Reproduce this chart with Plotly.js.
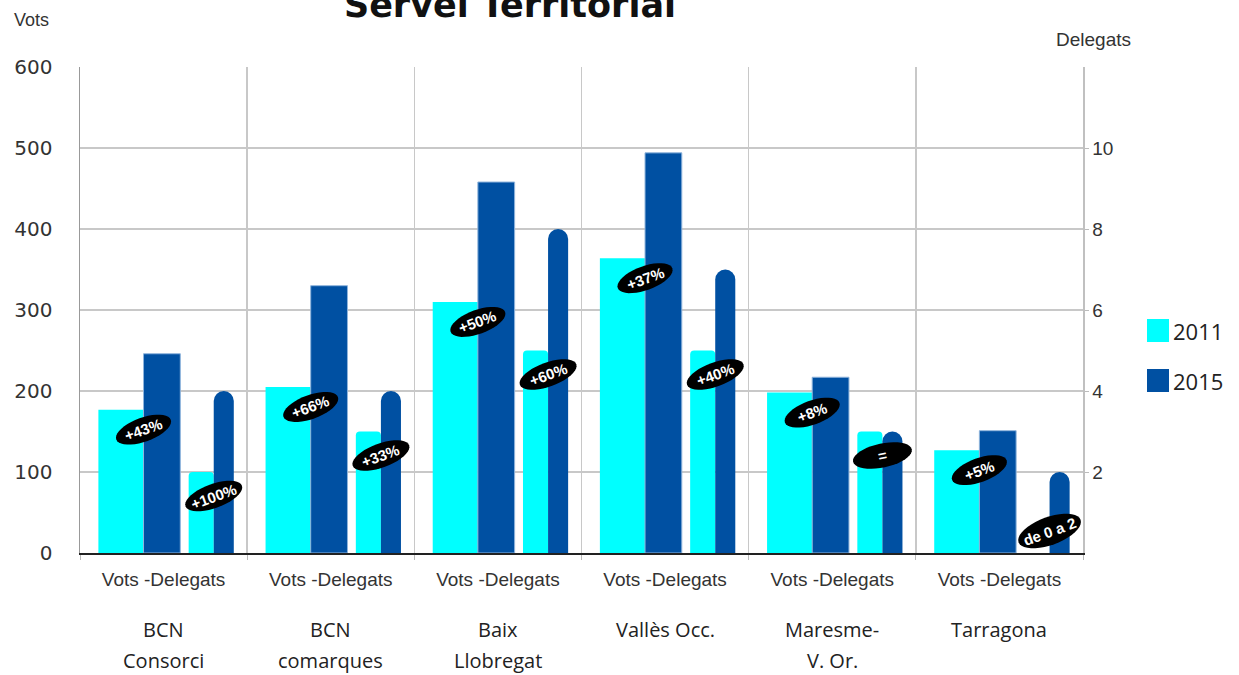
<!DOCTYPE html>
<html><head><meta charset="utf-8">
<script src="https://cdn.plot.ly/plotly-3.0.1.min.js"></script>
<style>html,body{margin:0;padding:0;background:#fff}#chart{width:1239px;height:675px}</style>
</head><body><div id="chart"></div>
<script>
const categories = ['BCN\nConsorci', 'BCN\ncomarques', 'Baix\nLlobregat', 'Vallès Occ.', 'Maresme-\nV. Or.', 'Tarragona'];
const groupTick = 'Vots -Delegats';
const years = ['2011', '2015'];
const vots2011 = [177, 205, 310, 364, 198, 127];
const vots2015 = [246, 330, 458, 494, 217, 151];
const deleg2011 = [2, 3, 5, 5, 3, 0];
const deleg2015 = [4, 4, 8, 7, 3, 2];
const votsChange = ['+43%', '+66%', '+50%', '+37%', '+8%', '+5%'];
const delegChange = ['+100%', '+33%', '+60%', '+40%', '=', 'de 0 a 2'];
const votsTicks = [0, 100, 200, 300, 400, 500, 600];
const delegTicks = [2, 4, 6, 8, 10];

const CYAN = '#00ffff', BLUE = '#0050a2';
const NARROW = '"Liberation Sans Narrow", "Arial Narrow", "Liberation Sans", Arial, sans-serif';
const idx = categories.map((_, i) => i);

// geometry helpers
const plotH = 675 - 67 - 122;
const pxPerVote = plotH / 600;
const votsPerDeleg = 600 / 12;

const traces = [
  {type: 'bar', x: idx, y: vots2011, name: years[0], yaxis: 'y', offset: -0.39, width: 0.27,
   marker: {color: CYAN}, showlegend: false, hoverinfo: 'y'},
  {type: 'bar', x: idx, y: vots2015, name: years[1], yaxis: 'y', offset: -0.12, width: 0.22,
   marker: {color: BLUE, line: {color: '#8fb4dc', width: 1}}, showlegend: false, hoverinfo: 'y'},
  {type: 'bar', x: idx, y: deleg2011, name: years[0], yaxis: 'y2', offset: 0.15, width: 0.15,
   marker: {color: CYAN, cornerradius: 4}, showlegend: false, hoverinfo: 'y'},
  {type: 'bar', x: idx, y: deleg2015, name: years[1], yaxis: 'y2', offset: 0.30, width: 0.12,
   marker: {color: BLUE, cornerradius: 10}, showlegend: false, hoverinfo: 'y'}
];

function ellipsePath(a, b, deg) {
  const phi = deg * Math.PI / 180;
  let d = '';
  const n = 40;
  for (let k = 0; k <= n; k++) {
    const t = 2 * Math.PI * k / n;
    const px = a * Math.cos(t) * Math.cos(phi) - b * Math.sin(t) * Math.sin(phi);
    const py = a * Math.cos(t) * Math.sin(phi) + b * Math.sin(t) * Math.cos(phi);
    d += (k === 0 ? 'M' : 'L') + px.toFixed(2) + ',' + py.toFixed(2);
  }
  return d + 'Z';
}

const shapes = [];
const annotations = [];

function addBadge(xc, yc, text, a, b, deg) {
  shapes.push({type: 'path', xref: 'x', yref: 'y', xsizemode: 'pixel', ysizemode: 'pixel',
    xanchor: xc, yanchor: yc, path: ellipsePath(a, b, deg),
    fillcolor: '#000', line: {width: 0}, layer: 'above'});
  annotations.push({x: xc, y: yc, xref: 'x', yref: 'y', text: '<b>' + text + '</b>', showarrow: false,
    textangle: -deg, font: {family: NARROW, size: 15, color: '#fff'}});
}

idx.forEach(i => {
  addBadge(i - 0.12, vots2011[i] - 20 / pxPerVote, votsChange[i], 29, 12, 20);
  const dTop = deleg2011[i] * votsPerDeleg;
  const dy = dTop > 0 ? dTop - 24 / pxPerVote : 22 / pxPerVote;
  const txt = delegChange[i];
  const big = txt.length > 5;
  addBadge(i + 0.30, dy, txt, big ? 33 : 30, big ? 14 : 12, txt === '=' ? 12 : 20);
  // category names
  const lines = categories[i].split('\n');
  lines.forEach((ln, j) => {
    annotations.push({x: i, xref: 'x', y: (553 - (629 + 31 * j)) / plotH, yref: 'paper',
      text: ln, showarrow: false, yanchor: 'middle',
      font: {family: '"Open Sans", sans-serif', size: 20, color: '#222'}});
  });
});

// axis titles
annotations.push({xref: 'paper', yref: 'paper', x: (31 - 80) / 1003, y: (553 - 20) / plotH, text: 'Vots',
  showarrow: false, xanchor: 'center', yanchor: 'middle', font: {family: NARROW, size: 18, color: '#333'}});
annotations.push({xref: 'paper', yref: 'paper', x: (1093 - 80) / 1003, y: (553 - 40) / plotH, text: 'Delegats',
  showarrow: false, xanchor: 'center', yanchor: 'middle', font: {family: NARROW, size: 19, color: '#333'}});

// custom legend
[[CYAN, 319, 342, 331], [BLUE, 369, 392, 381]].forEach((s, k) => {
  shapes.push({type: 'rect', xref: 'paper', yref: 'paper', x0: (1147 - 80) / 1003, x1: (1169 - 80) / 1003,
    y0: (553 - s[2]) / plotH, y1: (553 - s[1]) / plotH, fillcolor: s[0], line: {width: 0}});
  annotations.push({xref: 'paper', yref: 'paper', x: (1171 - 80) / 1003, y: (553 - s[3]) / plotH,
    text: years[k], showarrow: false, xanchor: 'left', yanchor: 'middle',
    font: {family: '"Open Sans", sans-serif', size: 22, color: '#222'}});
});

const layout = {
  width: 1239, height: 675,
  margin: {l: 80, r: 156, t: 67, b: 122},
  paper_bgcolor: '#fff', plot_bgcolor: '#fff',
  barmode: 'overlay', showlegend: false,
  title: {text: '<b>Servei Territorial</b>', xref: 'container', yref: 'container', x: 0.4116, xanchor: 'center',
    y: 0.993, yanchor: 'middle', font: {family: '"DejaVu Sans", sans-serif', size: 35, color: '#111'}},
  xaxis: {range: [-0.5, 5.5], tickvals: idx, ticktext: idx.map(() => groupTick), ticks: '',
    showgrid: false, zeroline: false, showline: true, linecolor: '#222', linewidth: 2,
    ticklabelstandoff: 8,
    tickfont: {family: NARROW, size: 19, color: '#333'},
    minor: {tick0: -0.5, dtick: 1, showgrid: true, gridcolor: '#c8c8c8', gridwidth: 1.5,
      ticks: 'outside', ticklen: 5, tickcolor: '#bbb'}},
  yaxis: {range: [0, 600], tickvals: votsTicks, ticks: '', showgrid: true, gridcolor: '#c8c8c8', gridwidth: 1.5,
    zeroline: false, showline: true, linecolor: '#999', linewidth: 1.5, ticklabelstandoff: 22,
    tickfont: {family: '"DejaVu Sans", sans-serif', size: 20, color: '#333'}},
  yaxis2: {range: [0, 12], overlaying: 'y', side: 'right', tickvals: delegTicks, showgrid: false,
    zeroline: false, showline: true, linecolor: '#c0c0c0', linewidth: 1.5, ticks: 'outside', ticklen: 4,
    tickcolor: '#bbb', tickfont: {family: NARROW, size: 19, color: '#333'}},
  shapes: shapes, annotations: annotations
};

Plotly.newPlot('chart', traces, layout, {displayModeBar: false, staticPlot: true});
</script></body></html>
